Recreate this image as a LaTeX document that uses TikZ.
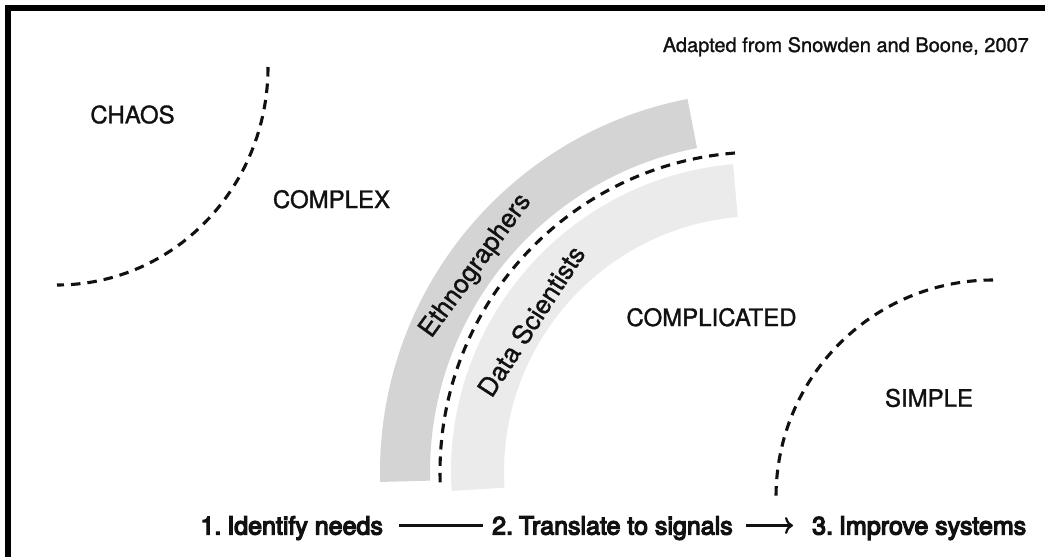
\documentclass[tikz,border=0pt]{standalone}
\usepackage{fontspec}
\setmainfont{TeX Gyre Heros}
\newfontfamily\labelfont[FakeBold=1.2]{TeX Gyre Heros}
\newfontfamily\stagefont[FakeBold=5]{TeX Gyre Heros}
\usetikzlibrary{arrows.meta,calc}
\definecolor{ethgray}{HTML}{D4D4D4}
\definecolor{datgray}{HTML}{EBEBEB}
\definecolor{ink}{HTML}{111111}
\tikzset{
  frameline/.style={line width=5.5pt, black, line join=miter, line cap=butt},
  domainline/.style={line width=3.1pt, dash pattern=on 9.5pt off 7pt, ink},
  regionlabel/.style={font=\labelfont\fontsize{24}{28}\selectfont, inner sep=0pt, anchor=base, text=ink},
  bandlabel/.style={font=\labelfont\fontsize{26}{30}\selectfont, inner sep=0pt, text=ink},
  sourcelabel/.style={font=\labelfont\fontsize{20}{24}\selectfont, inner sep=0pt, anchor=base east, text=ink},
  stagebox/.style={font=\stagefont\fontsize{25}{30}\selectfont, inner sep=0pt, anchor=base west, text height=18pt, text depth=0pt, text=ink},
  flow/.style={line width=2.2pt, ink}
}
\begin{document}
\begin{tikzpicture}[x=1pt,y=-1pt]
\useasboundingbox (0,0) rectangle (1045,557);
\fill[white] (0,0) rectangle (1045,557);
% frame (top and left edges visible)
\draw[frameline] (7.75,557) -- (7.75,7.75) -- (1045,7.75);

\coordinate (C) at (760,472);
% bands
\fill[ethgray] (C) ++(178.5:380) arc[start angle=178.5, end angle=259, radius=380]
  -- ++(79:50) arc[start angle=259, end angle=178.5, radius=330] -- cycle;
\fill[datgray] (C) ++(176.5:309) arc[start angle=176.5, end angle=265, radius=309]
  -- ++(85:53) arc[start angle=265, end angle=176.5, radius=256] -- cycle;

% domain boundaries
\draw[domainline] (268,67) arc[start angle=0, end angle=90, x radius=211, y radius=218];
\draw[domainline] (C) ++(265.5:320) arc[start angle=265.5, end angle=177.3, radius=320];
\draw[domainline] (993,280) arc[start angle=270, end angle=180, radius=217];

% labels
\node[sourcelabel] (src) at (1029,52) {Adapted from Snowden and Boone, 2007};
\node[regionlabel] (chaos) at (132.5,123.3) {CHAOS};
\node[regionlabel] (complex) at (331.5,208) {COMPLEX};
\node[regionlabel] (complicated) at (711.5,326) {COMPLICATED};
\node[regionlabel] (simple) at (929,406.7) {SIMPLE};

\node[bandlabel, rotate=54] (eth) at (476,266) {Ethnographers};
\node[bandlabel, rotate=57] (ds) at (531,321) {Data Scientists};

% stages
\node[stagebox] (s1) at (200.3,534.5) {1.\kern-1pt\ Identify needs};
\node[stagebox] (s2) at (492,534.5) {2.\kern-1pt\ Translate to signals};
\node[stagebox] (s3) at (812,534.5) {3.\kern-1pt\ Improve systems};
\draw[flow, shorten <=16pt, shorten >=9pt] (s1.east) -- (s2.west);
\draw[flow, -{To[length=8pt,width=17pt]}, shorten <=13pt, shorten >=19pt] (s2.east) -- (s3.west);
\end{tikzpicture}
\end{document}
